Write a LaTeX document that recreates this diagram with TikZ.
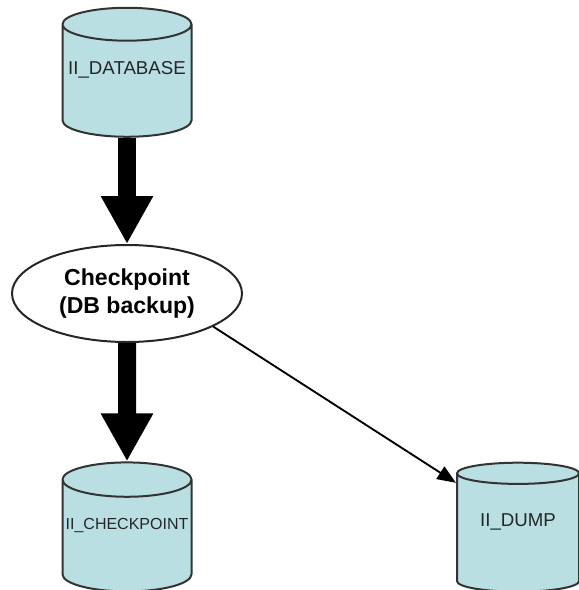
\documentclass[tikz,border=0pt]{standalone}
\usepackage{fontspec}
\setmainfont{Liberation Sans}
\usetikzlibrary{shapes.geometric,arrows.meta}
\definecolor{cylfill}{HTML}{B9DFE3}
\newcommand{\dbname}[1]{\raisebox{5pt}[0pt][0pt]{#1}}
\tikzset{
  dbcyl/.style={cylinder,shape border rotate=90,shape aspect=0.28,draw=black!80,line width=1.5pt,
    fill=cylfill,cylinder uses custom fill,cylinder body fill=cylfill,cylinder end fill=cylfill,
    minimum width=96.75pt,minimum height=96.75pt,inner sep=0pt,
    text=black!85,font=\fontsize{14}{16}\selectfont},
  bigarrow/.style={line width=13.5pt,-{Triangle[length=36pt,width=36.75pt]}},
}
\begin{document}
\begin{tikzpicture}[x=0.75pt,y=-0.75pt]
  \useasboundingbox (0,0) rectangle (579,590);
  \node[dbcyl] (database) at (127,81) {\dbname{II\_DATABASE}};
  \node[dbcyl,font=\fontsize{12}{14}\selectfont] (ckptfile) at (127,536) {\dbname{II\_CHECKPOINT}};
  \node[dbcyl,minimum width=91.5pt] (dump) at (518,533) {\dbname{II\_DUMP}};
  \node[ellipse,draw=black!85,line width=1.5pt,minimum width=172.5pt,minimum height=72.75pt,inner sep=0pt,
    align=center,font=\fontsize{17.3}{21.5}\selectfont\bfseries] (checkpoint) at (127,293.5) {Checkpoint\\(DB backup)};
  \draw[bigarrow] (database) -- (checkpoint);
  \draw[bigarrow] (checkpoint) -- (ckptfile);
  \draw[line width=1.4pt,-{Triangle[length=14pt,width=11pt]}] (checkpoint.-21.7) -- (dump.141.3);
\end{tikzpicture}
\end{document}
